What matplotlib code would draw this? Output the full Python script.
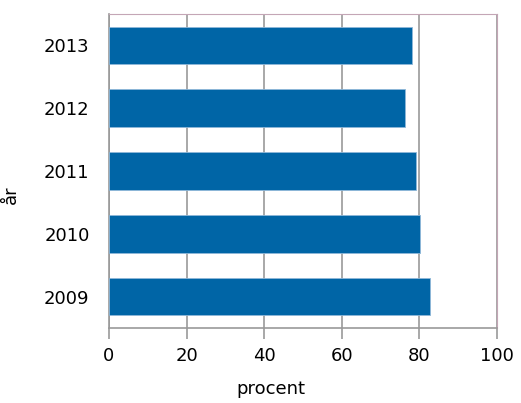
import matplotlib
matplotlib.use('Agg')
import matplotlib.pyplot as plt

# Data
years = ['2009', '2010', '2011', '2012', '2013']
values = [82.7, 80.2, 79.0, 76.3, 78.0]
x_ticks = [0, 20, 40, 60, 80, 100]

bar_color = '#0065a6'
grid_color = '#999999'
frame_color = '#c4a6b6'

fig = plt.figure(figsize=(5.21, 4.03), dpi=100)
ax = fig.add_axes([109 / 521, 1 - 328 / 403, (497 - 109) / 521, (328 - 14) / 403])

ax.barh(range(len(years)), values, height=0.6, color=bar_color,
        edgecolor='#8fb8d8', linewidth=0.6, zorder=3)

ax.set_xlim(0, 100)
ax.set_ylim(-0.5, len(years) - 0.5)
ax.set_xticks(x_ticks)
ax.set_yticks(range(len(years)))
ax.set_yticklabels(years)

ax.grid(axis='x', color=grid_color, linewidth=1.2, zorder=1)
ax.tick_params(axis='x', direction='out', length=8, width=1.2, color=grid_color,
               labelsize=13, pad=6)
ax.tick_params(axis='y', length=0, labelsize=13, pad=14)

ax.spines['left'].set_color(grid_color)
ax.spines['bottom'].set_color(grid_color)
ax.spines['left'].set_linewidth(1.2)
ax.spines['bottom'].set_linewidth(1.2)
ax.spines['top'].set_color(frame_color)
ax.spines['right'].set_color(frame_color)

ax.set_xlabel('procent', fontsize=13)
ax.xaxis.set_label_coords((271 - 109) / 388, -52 / 314)
ax.set_ylabel('år', fontsize=13)
ax.yaxis.set_label_coords((20 - 109) / 388, (328 - 195) / 314)

fig.savefig('out.png', dpi=100)
